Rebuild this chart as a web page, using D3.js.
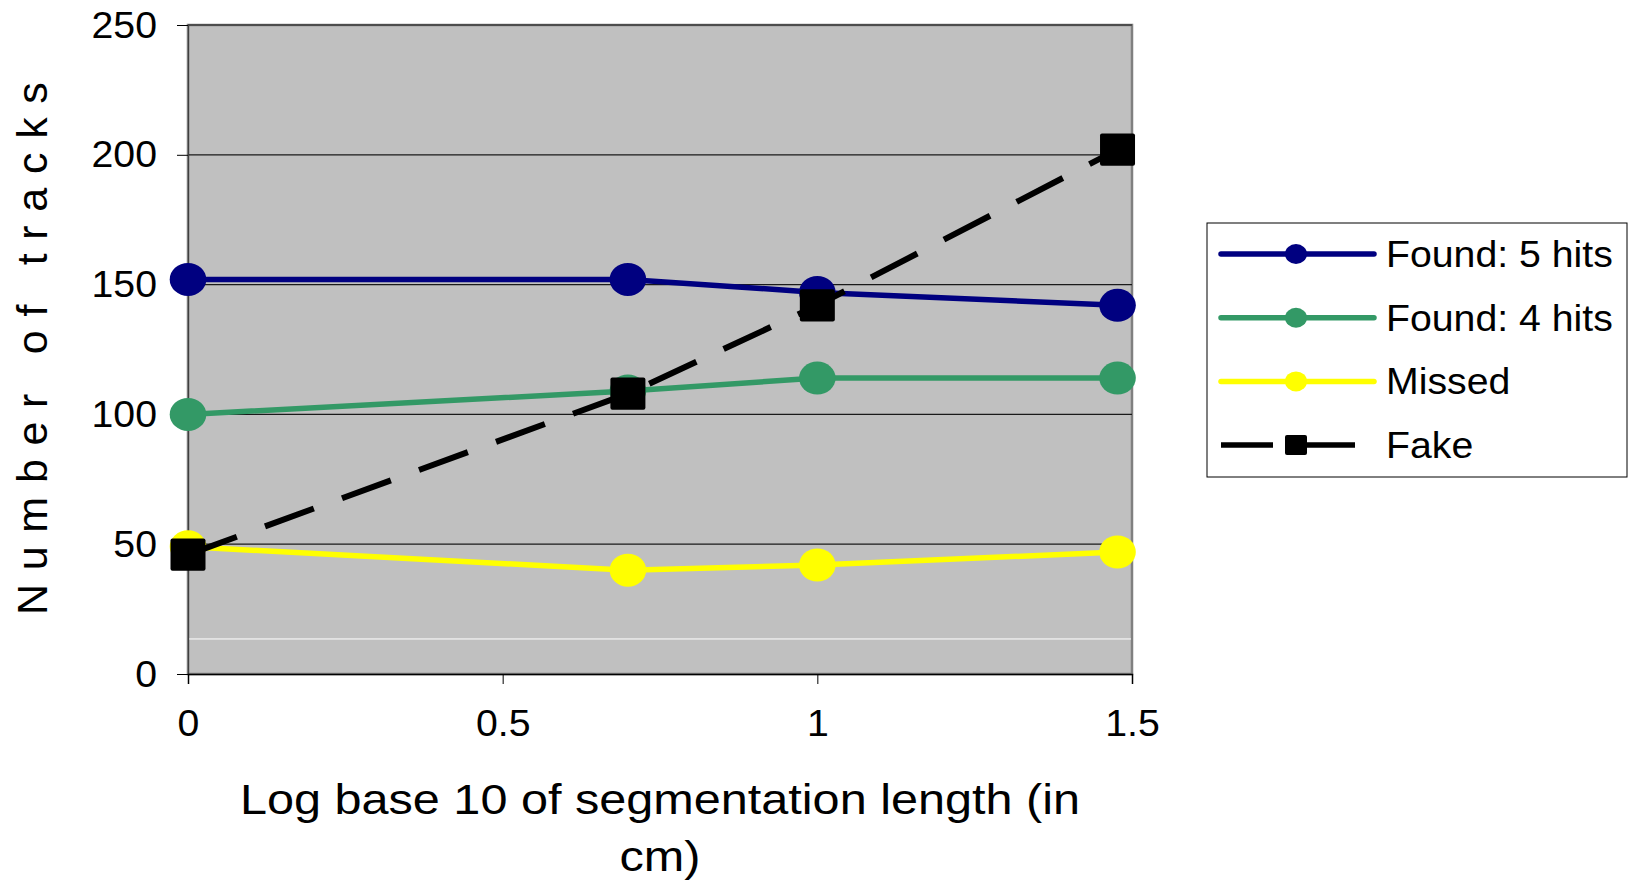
<!DOCTYPE html>
<html>
<head>
<meta charset="utf-8">
<script src="https://cdn.jsdelivr.net/npm/d3@7"></script>
<style>
  body { margin: 0; background: #fff; }
  svg { display: block; font-family: "Liberation Sans", Arial, sans-serif; }
</style>
</head>
<body>
<svg width="1630" height="880"></svg>
<script>
// --- data ---
var xValues = [0, 0.699, 1, 1.477];
var found5  = [152, 152, 147, 142];
var found4  = [100, 109, 114, 114];
var missed  = [49, 40, 42, 47];
var fake    = [46, 108, 142, 202];

var seriesNames = ["Found: 5 hits", "Found: 4 hits", "Missed", "Fake"];
var xTicks = [0, 0.5, 1, 1.5];
var yTicks = [0, 50, 100, 150, 200, 250];
var whiteLineValue = 13.5;

var svg = d3.select("svg"),
    margin = { top: 25, right: 498, bottom: 206, left: 188 },
    width  = +svg.attr("width"),
    height = +svg.attr("height");

var innerWidth  = width - margin.left - margin.right;
var innerHeight = height - margin.top - margin.bottom;

// the original text is drawn a little wider than the font
function widen(sel, k) {
  sel.each(function() {
    var len = this.getComputedTextLength();
    d3.select(this)
      .attr("textLength", len * k)
      .attr("lengthAdjust", "spacingAndGlyphs");
  });
}

var x = d3.scaleLinear().domain([0, 1.5]).range([0, innerWidth]);
var y = d3.scaleLinear().domain([0, 250]).range([innerHeight, 0]);

var g = svg.append("g").attr("transform", "translate(" + margin.left + "," + margin.top + ")");

// plot area
g.append("rect")
  .attr("width", innerWidth)
  .attr("height", innerHeight)
  .attr("fill", "#c0c0c0")
  .attr("stroke", "#808080")
  .attr("stroke-width", 2.5);

// gridlines
g.selectAll(".grid")
  .data(yTicks.filter(d => d > 0))
  .enter().append("line")
  .attr("x1", 0).attr("x2", innerWidth)
  .attr("y1", d => y(d)).attr("y2", d => y(d))
  .attr("stroke", "#1a1a1a")
  .attr("stroke-width", 1.2);

g.append("line")
  .attr("x1", 1).attr("x2", innerWidth - 1)
  .attr("y1", y(whiteLineValue)).attr("y2", y(whiteLineValue))
  .attr("stroke", "#fff").attr("stroke-width", 1);

// axes
var yAxis = g.append("g")
  .call(d3.axisLeft(y).tickValues(yTicks).tickSize(11).tickPadding(0).tickFormat(d3.format("d")));
yAxis.attr("font-size", 36).attr("font-family", null);
yAxis.select(".domain").attr("stroke", "#404040").attr("stroke-width", 1.2);
yAxis.selectAll("line").attr("stroke", "#000");
yAxis.selectAll("text")
  .attr("x", -31).attr("dy", 12)
  .attr("fill", "#000")
  .call(widen, 1.09);

var xAxis = g.append("g")
  .attr("transform", "translate(0," + innerHeight + ")")
  .call(d3.axisBottom(x).tickValues(xTicks).tickSize(10).tickFormat(d => d));
xAxis.attr("font-size", 36).attr("font-family", null);
xAxis.select(".domain").attr("stroke", "#000").attr("stroke-width", 1.5);
xAxis.selectAll("line").attr("stroke", "#000");
xAxis.selectAll("text")
  .attr("y", 62).attr("dy", 0)
  .attr("fill", "#000")
  .call(widen, 1.09);

// axis titles
var titleX = margin.left + innerWidth / 2;
svg.append("text")
  .attr("x", titleX).attr("y", 814)
  .attr("text-anchor", "middle")
  .attr("font-size", 43)
  .text("Log base 10 of segmentation length (in")
  .call(widen, 1.13);
svg.append("text")
  .attr("x", titleX).attr("y", 871)
  .attr("text-anchor", "middle")
  .attr("font-size", 43)
  .text("cm)")
  .call(widen, 1.13);

svg.append("text")
  .attr("transform", "translate(47,615) rotate(-90)")
  .attr("text-anchor", "start")
  .attr("font-size", 43)
  .attr("letter-spacing", 13.7)
  .text("Number of tracks");

// series
var series = [
  { name: seriesNames[0], values: found5, color: "#000080", dash: null, shape: "circle" },
  { name: seriesNames[1], values: found4, color: "#339966", dash: null, shape: "circle" },
  { name: seriesNames[2], values: missed, color: "#ffff00", dash: null, shape: "circle" },
  { name: seriesNames[3], values: fake,   color: "#000000", dash: "52,30", shape: "square" }
];

var line = d3.line()
  .x((d, i) => x(xValues[i]))
  .y(d => y(d));

series.forEach(function(s) {
  var sg = g.append("g");
  sg.append("path")
    .attr("d", line(s.values))
    .attr("fill", "none")
    .attr("stroke", s.color)
    .attr("stroke-width", s.dash ? 6 : 5.5)
    .attr("stroke-dasharray", s.dash);

  if (s.shape === "circle") {
    sg.selectAll("ellipse")
      .data(s.values)
      .enter().append("ellipse")
      .attr("cx", (d, i) => x(xValues[i]))
      .attr("cy", d => y(d))
      .attr("rx", 18.3)
      .attr("ry", 16.5)
      .attr("fill", s.color);
  } else {
    sg.selectAll("rect")
      .data(s.values)
      .enter().append("rect")
      .attr("x", (d, i) => x(xValues[i]) - 17.5)
      .attr("y", d => y(d) - 16.2)
      .attr("width", 35)
      .attr("height", 32.4)
      .attr("rx", 2)
      .attr("fill", s.color);
  }
});

// -- legend --
var legend = svg.append("g").attr("transform", "translate(1207,223)");
legend.append("rect")
  .attr("width", 420)
  .attr("height", 254)
  .attr("fill", "#fff")
  .attr("stroke", "#000")
  .attr("stroke-width", 1);

var rows = legend.selectAll(".row")
  .data(series)
  .enter().append("g")
  .attr("transform", (d, i) => "translate(0," + (31 + i * 63.7) + ")");

rows.append("line")
  .attr("x1", 14).attr("x2", d => d.dash ? 151 : 167)
  .attr("y1", 0).attr("y2", 0)
  .attr("stroke", d => d.color)
  .attr("stroke-width", 5.5)
  .attr("stroke-linecap", d => d.dash ? "butt" : "round")
  .attr("stroke-dasharray", d => d.dash);

rows.filter(d => d.shape === "circle").append("ellipse")
  .attr("cx", 89).attr("cy", 0)
  .attr("rx", 11).attr("ry", 10)
  .attr("fill", d => d.color);

rows.filter(d => d.shape === "square").append("rect")
  .attr("x", 78).attr("y", -10)
  .attr("width", 22).attr("height", 20)
  .attr("rx", 2)
  .attr("fill", d => d.color);

rows.append("text")
  .attr("x", 179).attr("y", 13)
  .attr("font-size", 36)
  .text(d => d.name)
  .call(widen, 1.09);
</script>
</body>
</html>
